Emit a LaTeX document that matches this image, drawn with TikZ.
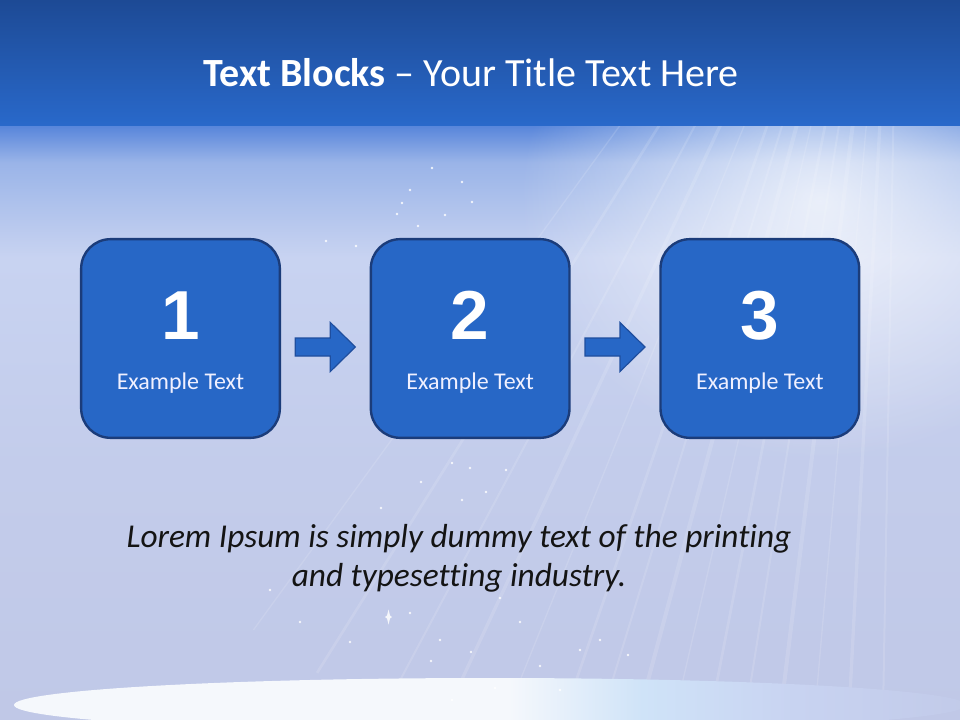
\documentclass[tikz,border=0pt]{standalone}
\usepackage{fontspec}
\setmainfont{Carlito}[Ligatures=NoCommon]
\newfontfamily\digitfont{Liberation Sans}
\usetikzlibrary{positioning, calc, fadings}

\definecolor{bandtop}{HTML}{1D4A95}
\definecolor{bandbot}{HTML}{2969CB}
\definecolor{skytop}{HTML}{5A87DB}
\definecolor{skylow}{HTML}{9AB4E8}
\definecolor{skymid}{HTML}{C8D3F1}
\definecolor{skybot}{HTML}{C0C8E7}
\definecolor{boxfill}{HTML}{2767C6}
\definecolor{boxline}{HTML}{1B3C7A}
\definecolor{arrline}{HTML}{1F4E9E}
\definecolor{glowtint}{HTML}{CFE3F8}
\definecolor{discwhite}{HTML}{F5F8FC}

% tikz fits the 25bp--75bp part of a shading to the path
\pgfdeclareverticalshading{skyshade}{100bp}{color(0bp)=(skybot); color(25bp)=(skybot);
  color(47bp)=(skybot!60!skymid); color(64bp)=(skymid); color(72bp)=(skylow);
  color(75bp)=(skytop); color(100bp)=(skytop)}
\pgfdeclarehorizontalshading{discshade}{100bp}{color(0bp)=(discwhite); color(25bp)=(discwhite);
  color(51bp)=(discwhite); color(58bp)=(glowtint); color(66bp)=(skymid);
  color(75bp)=(skybot!80!skymid); color(100bp)=(skybot!80!skymid)}
\tikzfading[name=glowfade, inner color=transparent!0, outer color=transparent!100]

\begin{document}
\begin{tikzpicture}[
  x=0.75pt, y=-0.75pt,
  node distance=68.25pt,
  stepbox/.style={rectangle, rounded corners=22pt, draw=boxline, line width=1.8pt,
                  fill=boxfill, minimum width=149pt, minimum height=149pt,
                  inner sep=0pt, outer sep=0pt},
  numtxt/.style={font=\digitfont\bfseries\fontsize{52pt}{52pt}\selectfont,
                 text=white, inner sep=0pt},
  captxt/.style={font=\fontsize{18pt}{21pt}\selectfont, text=white!94!blue,
                 inner sep=0pt},
  blockarr/.style={fill=boxfill, draw=arrline, line width=0.9pt, line join=miter},
  ray/.style={white, opacity=0.13},
  spark/.style={white, opacity=0.85},
]

%% background
\useasboundingbox (0,0) rectangle (960,720);
\clip (0,0) rectangle (960,720);
\shade[top color=bandtop, bottom color=bandbot] (0,0) rectangle (960,127);
\shade[shading=skyshade] (0,127) rectangle (960,720);
\begin{scope}
  \clip (0,127) rectangle (960,720);
  \fill[white, opacity=0.75, path fading=glowfade] (820,200) ellipse (300 and 260);
  \foreach \a/\w in {91/1.5, 93/2.5, 95/1, 97/3, 99/1.5, 101/2, 103/1, 105/3, 107/1.5,
                     109/2, 112/1, 115/2.5, 118/1.5, 122/2, 126/1}
    \draw[ray, line width=\w pt] (900,-260) -- ++(\a:1100);
  \shade[shading=discshade] (490,705) ellipse (476 and 27);
\end{scope}

%% sparkles
\foreach \p in {(410,190),(397,214),(356,246),(326,241),(432,168),(472,202),(418,226),
                (402,203),(462,182),(445,215),
                (452,463),(470,468),(486,492),(381,508),(421,482),(506,470),(462,500),
                (500,598),(410,613),(440,640),(431,661),(471,652),(520,622),
                (350,642),(300,622),(270,590),(560,690),(540,666),(495,688),(600,640),
                (628,655),(580,650),(452,700)}
  \fill[spark] \p circle (1.4);
\fill[spark] (385,617) -- ++(2,-1.5) -- ++(1.5,-6) -- ++(1.5,6) -- ++(2,1.5)
  -- ++(-2,1.5) -- ++(-1.5,6) -- ++(-1.5,-6) -- cycle;

%% title
\node[font=\fontsize{30pt}{36pt}\selectfont, text=white, anchor=base] (title) at (471,87)
  {\textbf{Text Blocks} – Your Title Text Here};

%% blocks
\node[stepbox] (b1) at (180.5,338.5) {};
\node[stepbox, right=of b1] (b2) {};
\node[stepbox, right=of b2] (b3) {};

\foreach \i in {1,2,3} {
  \node[numtxt] (num\i) at ($(b\i.center)+(0,-23)$) {\i};
  \node[captxt, anchor=base] (cap\i) at ($(b\i.center)+(0,50.5)$) {Example Text};
}

%% arrows between blocks
\coordinate (a1) at ($(b1.east)!0.5!(b2.west)+(0,8.5)$);
\coordinate (a2) at ($(b2.east)!0.5!(b3.west)+(0,8.5)$);
\foreach \c in {a1,a2}
  \draw[blockarr] (\c) ++(-30,-9) -- ++(35,0) -- ++(0,-15.5) -- ++(25,24.5)
    -- ++(-25,24.5) -- ++(0,-15.5) -- ++(-35,0) -- cycle;

%% caption
\node[font=\itshape\fontsize{25pt}{29.25pt}\selectfont, text=black!92, align=center]
  (lorem) at (459,558)
  {Lorem Ipsum is simply dummy text of the printing\\and typesetting industry.};

\end{tikzpicture}
\end{document}
